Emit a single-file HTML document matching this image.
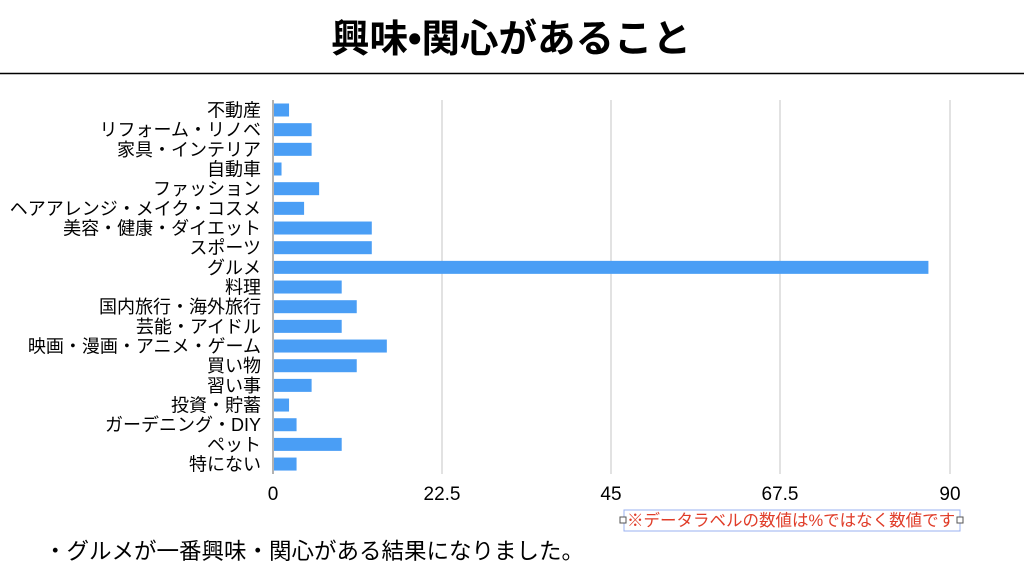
<!DOCTYPE html>
<html><head><meta charset="utf-8"><style>
html,body{margin:0;padding:0;background:#fff;width:1024px;height:578px;overflow:hidden}
svg{display:block}
text{font-family:"Liberation Sans","Noto Sans CJK JP",sans-serif}
</style></head><body>
<svg width="1024" height="578" viewBox="0 0 1024 578">
<text x="511" y="52" text-anchor="middle" font-size="38.5" font-weight="bold" fill="#000">興味•関心があること</text>
<line x1="0" y1="73.5" x2="1024" y2="73.5" stroke="#000" stroke-width="1.5"/>
<g stroke="#d8d8d8" stroke-width="1.5">
<line x1="442" y1="100" x2="442" y2="474"/>
<line x1="611" y1="100" x2="611" y2="474"/>
<line x1="780" y1="100" x2="780" y2="474"/>
<line x1="950" y1="100" x2="950" y2="474"/>
</g>
<line x1="273" y1="100" x2="273" y2="474" stroke="#999" stroke-width="1.5"/>
<g fill="#4a9ef5" id="bars"></g>
<g font-size="18" fill="#000" text-anchor="end" id="labels"></g>
<g font-size="19" fill="#000" text-anchor="middle">
<text x="273" y="500">0</text><text x="442" y="500">22.5</text><text x="611" y="500">45</text><text x="780" y="500">67.5</text><text x="950" y="500">90</text>
</g>
<rect x="624" y="510" width="336" height="21" fill="none" stroke="#9ab0f0" stroke-width="1"/>
<rect x="620" y="517" width="6" height="6" fill="#fff" stroke="#555"/>
<rect x="957" y="517" width="6" height="6" fill="#fff" stroke="#555"/>
<text x="627" y="526" font-size="16.5" fill="#e03c28">※データラベルの数値は%ではなく数値です</text>
<text x="44" y="559" font-size="22.5" fill="#000">・グルメが一番興味・関心がある結果になりました。</text>
</svg>
<script>
var d=[["不動産",2],["リフォーム・リノベ",5],["家具・インテリア",5],["自動車",1],["ファッション",6],["ヘアアレンジ・メイク・コスメ",4],["美容・健康・ダイエット",13],["スポーツ",13],["グルメ",87],["料理",9],["国内旅行・海外旅行",11],["芸能・アイドル",9],["映画・漫画・アニメ・ゲーム",15],["買い物",11],["習い事",5],["投資・貯蓄",2],["ガーデニング・DIY",3],["ペット",9],["特にない",3]];
var ns="http://www.w3.org/2000/svg",b=document.getElementById("bars"),l=document.getElementById("labels");
d.forEach(function(r,i){var y=110+i*19.67;
var e=document.createElementNS(ns,"rect");e.setAttribute("x",274);e.setAttribute("y",y-6.5);e.setAttribute("width",r[1]*7.522);e.setAttribute("height",13);b.appendChild(e);
var t=document.createElementNS(ns,"text");t.setAttribute("x",261);t.setAttribute("y",y+6.5);t.textContent=r[0];l.appendChild(t);});
</script>
</body></html>
